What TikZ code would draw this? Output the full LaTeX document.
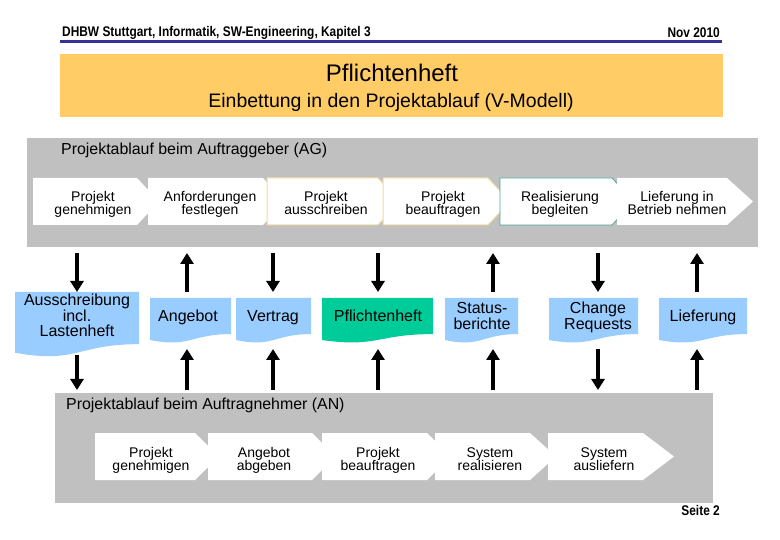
\documentclass[tikz,border=0pt]{standalone}
\usepackage{fontspec}
\setmainfont{Liberation Sans}
\newfontfamily\narrowfont[FakeStretch=0.85]{Liberation Sans}
\usetikzlibrary{arrows.meta}
\definecolor{agray}{HTML}{C0C0C0}
\definecolor{titleor}{HTML}{FFCC66}
\definecolor{navyline}{HTML}{333399}
\definecolor{docblue}{HTML}{99CCFF}
\definecolor{docgreen}{HTML}{00CC99}
\definecolor{beigeb}{HTML}{EEDCA0}
\definecolor{tealb}{HTML}{4AA89A}
\newcommand\tightlines{\lineskiplimit-100pt\relax}
% chevron: style, left, corner, point, top, bottom
\newcommand\chevshape[6]{\path[#1] (#2,#5) -- (#3,#5) -- (#4,{(#5+#6)/2}) -- (#3,#6) -- (#2,#6) -- cycle;}
% document: style, x1, x2, top, height
\newcommand\docshape[5]{\path[#1] (#2,#4) -- (#3,#4) -- (#3,{#4+0.802*#5}) .. controls ({(#2+#3)/2},{#4+0.802*#5}) and ({(#2+#3)/2},{#4+1.108*#5}) .. (#2,{#4+0.934*#5}) -- cycle;}
\tikzset{
  chev/.style={fill=white},
  chevtext/.style={font=\fontsize{14}{13.5}\selectfont\tightlines, align=center, inner sep=0pt},
  doctext/.style={font=\fontsize{16}{15.5}\selectfont\tightlines, align=center, inner sep=0pt},
  flow/.style={line width=4.5pt, -{Triangle[width=13pt,length=11pt]}},
  lanebox/.style={fill=agray, draw=none, inner sep=0pt},
  lanelabel/.style={font=\fontsize{15.9}{17}\selectfont, anchor=west, inner sep=0pt},
  hdrtext/.style={font=\narrowfont\bfseries\fontsize{14}{16}\selectfont, inner sep=0pt}
}
\begin{document}
\begin{tikzpicture}[x=1pt,y=-1pt]
\useasboundingbox[fill=white] (0,0) rectangle (780,540);
% header
\node[hdrtext, anchor=west] (hdr) at (62,33) {DHBW Stuttgart, Informatik, SW-Engineering, Kapitel 3};
\node[hdrtext, anchor=east] (date) at (720,33) {Nov 2010};
\coordinate (hl) at (60,42);
\coordinate (hr) at (722,42);
\draw[navyline, line width=3pt] (hl) -- (hr);
% title
\node[fill=titleor, minimum width=663pt, minimum height=63pt, inner sep=0pt] (title) at (391.5,85.5) {};
\node[font=\fontsize{24}{26}\selectfont, inner sep=0pt] (t1) at (392,76) {\strut Pflichtenheft};
\node[font=\fontsize{19.5}{21}\selectfont, inner sep=0pt] (t2) at (391,103) {\strut Einbettung in den Projektablauf (V-Modell)};
% AG lane
\node[lanebox, minimum width=731pt, minimum height=109pt] (ag) at (392.5,192.5) {};
\node[lanelabel] (aglabel) at (61,151) {\strut Projektablauf beim Auftraggeber (AG)};
\chevshape{chev}{33}{137}{159}{178}{225}
\chevshape{chev}{148}{263}{285}{178}{225}
\chevshape{chev,draw=beigeb,line width=1pt}{267}{378}{400}{178}{225}
\chevshape{chev,draw=beigeb,line width=1pt}{383}{488}{510}{178}{225}
\chevshape{chev,draw=tealb,line width=0.8pt}{500}{612}{634}{178}{225}
\chevshape{chev}{617}{727}{753}{178}{225}
\node[chevtext] (ag1) at (93,205) {\strut Projekt\\genehmigen\strut};
\node[chevtext] (ag2) at (210,205) {\strut Anforderungen\\festlegen\strut};
\node[chevtext] (ag3) at (326,205) {\strut Projekt\\ausschreiben\strut};
\node[chevtext] (ag4) at (443,205) {\strut Projekt\\beauftragen\strut};
\node[chevtext] (ag5) at (560,205) {\strut Realisierung\\begleiten\strut};
\node[chevtext] (ag6) at (677,205) {\strut Lieferung in\\Betrieb nehmen\strut};
% AN lane
\node[lanebox, minimum width=658pt, minimum height=110pt] (an) at (384,448) {};
\node[lanelabel] (anlabel) at (66,406) {\strut Projektablauf beim Auftragnehmer (AN)};
\chevshape{chev}{95}{195}{219}{433}{480}
\chevshape{chev}{208}{312}{336}{433}{480}
\chevshape{chev}{322}{427}{451}{433}{480}
\chevshape{chev}{435}{530}{556}{433}{480}
\chevshape{chev}{548}{643}{674}{433}{480}
\node[chevtext] (an1) at (151,461) {\strut Projekt\\genehmigen\strut};
\node[chevtext] (an2) at (264,461) {\strut Angebot\\abgeben\strut};
\node[chevtext] (an3) at (378,461) {\strut Projekt\\beauftragen\strut};
\node[chevtext] (an4) at (490,461) {\strut System\\realisieren\strut};
\node[chevtext] (an5) at (604,461) {\strut System\\ausliefern\strut};
% documents
\docshape{fill=docblue}{15}{139}{292}{65}
\docshape{fill=docblue}{150}{231}{298}{45}
\docshape{fill=docblue}{236}{311}{298}{45}
\docshape{fill=docgreen}{322}{433}{298}{45}
\docshape{fill=docblue}{445}{518}{298}{45}
\docshape{fill=docblue}{549}{638}{298}{45}
\docshape{fill=docblue}{659}{747}{298}{45}
\node[doctext] (d1) at (77,318) {\strut Ausschreibung\\incl.\\Lastenheft\strut};
\node[doctext] (d2) at (188,318) {\strut Angebot\strut};
\node[doctext] (d3) at (273,318) {\strut Vertrag\strut};
\node[doctext] (d4) at (378,318) {\strut Pflichtenheft\strut};
\node[doctext] (d5) at (482,318) {\strut Status-\\berichte\strut};
\node[doctext] (d6) at (598,318) {\strut Change\\Requests\strut};
\node[doctext] (d7) at (703,318) {\strut Lieferung\strut};
% arrow end points
\foreach \i/\x in {1/77,2/187,3/273,4/378,5/493,6/598,7/697}{
  \coordinate (u\i t) at (\x,253);
  \coordinate (u\i b) at (\x,292);
  \coordinate (l\i t) at (\x,349);
  \coordinate (l\i b) at (\x,390);
}
\coordinate (l1t) at (77,355);
% upper arrows
\draw[flow] (u1t) -- (u1b);
\draw[flow] (u2b) -- (u2t);
\draw[flow] (u3t) -- (u3b);
\draw[flow] (u4t) -- (u4b);
\draw[flow] (u5b) -- (u5t);
\draw[flow] (u6t) -- (u6b);
\draw[flow] (u7b) -- (u7t);
% lower arrows
\draw[flow] (l1t) -- (l1b);
\draw[flow] (l2b) -- (l2t);
\draw[flow] (l3b) -- (l3t);
\draw[flow] (l4b) -- (l4t);
\draw[flow] (l5b) -- (l5t);
\draw[flow] (l6t) -- (l6b);
\draw[flow] (l7b) -- (l7t);
% footer
\node[hdrtext, anchor=east] (seite) at (720,510) {Seite 2};
\end{tikzpicture}
\end{document}
